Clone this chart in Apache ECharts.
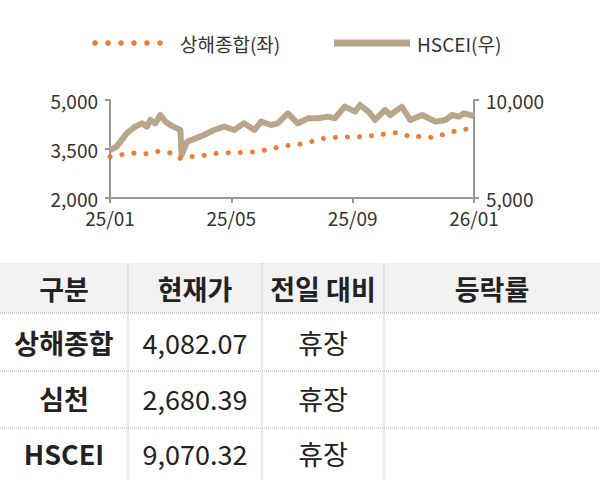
<!DOCTYPE html>
<html><head><meta charset="utf-8">
<script src="https://cdn.jsdelivr.net/npm/echarts@6/dist/echarts.min.js"></script>
<style>html,body{margin:0;padding:0;background:#fff}#c{width:600px;height:480px}</style>
</head><body><div id="c"></div>
<script>
const xTickLabels = ['25/01','25/05','25/09','26/01'];
const shWeeks = Array.from({length:53},(_,i)=>i);
const shValues = [3265,3300,3340,3380,3370,3350,3390,3430,3400,3370,3214,3265,3275,3286,3330,3360,3385,3388,3388,3393,3398,3430,3460,3505,3550,3600,3615,3640,3700,3740,3820,3818,3850,3880,3870,3860,3890,3915,3890,3950,3980,4005,3950,3860,3880,3880,3850,3900,3975,4030,4090,4110,4135];
const hsMonths = [0,0.22,0.55,0.83,1.05,1.22,1.33,1.49,1.66,1.83,1.99,2.21,2.32,2.36,2.54,2.82,3.10,3.43,3.76,4.09,4.42,4.76,4.98,5.31,5.53,5.86,6.19,6.53,6.86,7.19,7.41,7.74,8.08,8.24,8.52,8.74,9.07,9.24,9.62,9.90,10.29,10.73,11.06,11.28,11.50,11.67,12.0];
const hsValues = [7449,7619,8299,8639,8810,8639,8980,8810,9235,8895,8724,8554,8469,7194,7874,8044,8214,8469,8639,8469,8810,8469,8895,8724,8810,9320,8810,9065,9065,9150,9065,9660,9405,9745,9405,8980,9490,9235,9660,8980,9235,8895,8980,9235,9150,9320,9184];
const tableHeader = ['구분','현재가','전일 대비','등락률'];
const tableRows = [['상해종합','4,082.07','휴장',''],['심천','2,680.39','휴장',''],['HSCEI','9,070.32','휴장','']];

const FONT = '"Noto Sans CJK KR","Noto Sans",sans-serif';
const chart = echarts.init(document.getElementById('c'), null, {renderer:'svg'});
const colX = [64,195,323,492];
const rowY = [342,398,453];
const g = [];
g.push({type:'rect',shape:{x:0,y:263,width:600,height:50},style:{fill:'#f2f2f2'},silent:true});
[313,371,428].forEach(y=>g.push({type:'line',shape:{x1:0,y1:y,x2:600,y2:y},style:{stroke:'#aaa',lineWidth:1,lineDash:[1,1]}}));
[128,262,384].forEach(x=>g.push({type:'line',shape:{x1:x,y1:263,x2:x,y2:480},style:{stroke:'#bbb',lineWidth:1,lineDash:[1,1]}}));
tableHeader.forEach((t,i)=>g.push({type:'text',x:colX[i],y:288,style:{text:t,fill:'#222',font:'bold 27px '+FONT,textAlign:'center',textVerticalAlign:'middle'}}));
tableRows.forEach((r,ri)=>r.forEach((t,ci)=>{ if(!t) return; g.push({type:'text',x:colX[ci],y:rowY[ri],style:{text:t,fill:'#222',font:(ci==0?'bold ':'')+'27px '+FONT,textAlign:'center',textVerticalAlign:'middle'}});}));
// legend
for(let k=0;k<6;k++) g.push({type:'circle',shape:{cx:95+k*13,cy:43,r:2.8},style:{fill:'#ED7D31'}});
g.push({type:'text',x:180,y:43,style:{text:'상해종합(좌)',fill:'#333',font:'19px '+FONT,textVerticalAlign:'middle'}});
g.push({type:'line',shape:{x1:334,y1:43,x2:410,y2:43},style:{stroke:'#B9A68A',lineWidth:7}});
g.push({type:'text',x:417,y:43,style:{text:'HSCEI(우)',fill:'#333',font:'19px '+FONT,textVerticalAlign:'middle'}});

const axisLine = {lineStyle:{color:'#999',width:2}};
const lab = {color:'#333',fontSize:19,fontFamily:FONT};
chart.setOption({
  animation:false,
  grid:{left:110,right:126,top:100,bottom:282},
  xAxis:{type:'value',min:0,max:12,interval:4,axisLine:axisLine,axisTick:{show:true,length:5,lineStyle:{color:'#999',width:2}},splitLine:{show:false},
    axisLabel:Object.assign({formatter:v=>xTickLabels[v/4],margin:10},lab)},
  yAxis:[
    {type:'value',min:2000,max:5000,interval:1500,axisLine:Object.assign({show:true},axisLine),axisTick:{show:true,length:5,lineStyle:{color:'#999',width:2}},splitLine:{show:false},
      axisLabel:Object.assign({formatter:v=>v.toLocaleString('en-US'),margin:12},lab)},
    {type:'value',min:5000,max:10000,interval:5000,axisLine:Object.assign({show:true},axisLine),axisTick:{show:true,length:5,lineStyle:{color:'#999',width:2}},splitLine:{show:false},
      axisLabel:Object.assign({formatter:v=>v.toLocaleString('en-US'),margin:12},lab)}
  ],
  series:[
    {type:'line',yAxisIndex:1,data:hsMonths.map((m,i)=>[m,hsValues[i]]),symbol:'none',lineStyle:{color:'#B9A68A',width:6,join:'round'}},
    {type:'line',yAxisIndex:0,data:shWeeks.map((w,i)=>[w*12/52,shValues[i]]),symbol:'none',lineStyle:{color:'#ED7D31',width:5,type:[0.1,12],cap:'round'}}
  ],
  graphic:g
});
</script></body></html>
